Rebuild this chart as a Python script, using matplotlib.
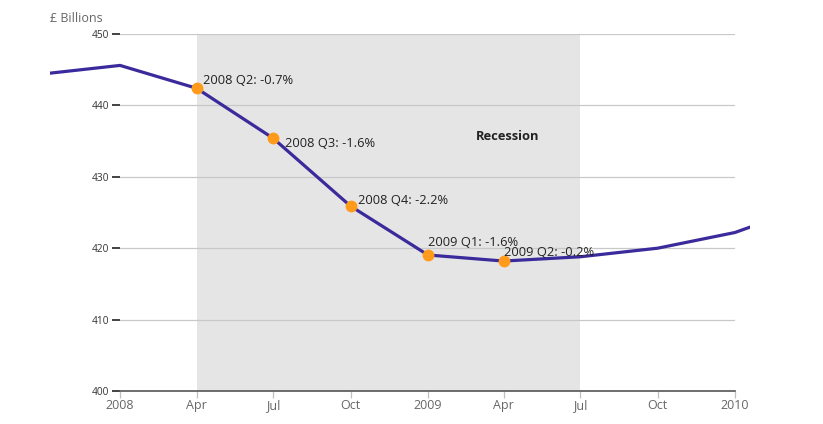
import matplotlib
matplotlib.use("Agg")
import matplotlib.pyplot as plt
import matplotlib.dates as mdates
from matplotlib.transforms import Bbox, TransformedBbox
import datetime as dt

plt.rcParams['font.family'] = ['Open Sans', 'DejaVu Sans']

dates = ["2007-10-01", "2008-01-01", "2008-04-01", "2008-07-01", "2008-10-01",
         "2009-01-01", "2009-04-01", "2009-07-01", "2009-10-01", "2010-01-01", "2010-04-01"]
values = [444.4, 445.6, 442.4, 435.4, 425.9, 419.05, 418.2, 418.8, 420.0, 422.2, 426.0]

marked_dates = ["2008-04-01", "2008-07-01", "2008-10-01", "2009-01-01", "2009-04-01"]
marked_labels = ["2008 Q2: -0.7%", "2008 Q3: -1.6%", "2008 Q4: -2.2%",
                 "2009 Q1: -1.6%", "2009 Q2: -0.2%"]
label_offsets = [(6, 8), (12, -5), (7, 6), (0, 12), (0, 9)]

recession = ["2008-04-01", "2009-07-01"]
yticks = [400, 410, 420, 430, 440, 450]
xtick_dates = ["2008-01-01", "2008-04-01", "2008-07-01", "2008-10-01", "2009-01-01",
               "2009-04-01", "2009-07-01", "2009-10-01", "2010-01-01"]
xtick_labels = ["2008", "Apr", "Jul", "Oct", "2009", "Apr", "Jul", "Oct", "2010"]

to_d = lambda s: dt.datetime.strptime(s, "%Y-%m-%d")
D = [to_d(s) for s in dates]
val = dict(zip(dates, values))

W, H = 823, 424
fig = plt.figure(figsize=(W / 100, H / 100), dpi=100)
ax = fig.add_axes([120 / W, (H - 391) / H, (735 - 120) / W, (391 - 34) / H])
ax.set_xlim(to_d("2008-01-01"), to_d("2010-01-01"))
ax.set_ylim(400, 450)

ax.axvspan(to_d(recession[0]), to_d(recession[1]), color="#e5e5e5", zorder=0, lw=0)
for y in yticks[1:]:
    ax.axhline(y, color="#c8c8c8", lw=0.9, zorder=1)

line, = ax.plot(D, values, color="#3a2a9c", lw=2.3, zorder=3, clip_on=False,
                solid_joinstyle="miter")
fig.canvas.draw()
clipbox = TransformedBbox(Bbox([[50 / W, 0], [750 / W, 1]]), fig.transFigure)
line.set_clip_box(clipbox)
line.set_clip_on(True)

for d, lab, off in zip(marked_dates, marked_labels, label_offsets):
    ax.plot([to_d(d)], [val[d]], "o", color="#ff9a1a", ms=7.5, mec="#ff9a1a", zorder=4)
    ax.annotate(lab, (to_d(d), val[d]), xytext=off, textcoords="offset pixels",
                fontsize=9.3, color="#222222", ha="left", va="center", zorder=5)

ax.annotate("Recession", (to_d("2009-04-01"), 435.7), xytext=(4, 0),
            textcoords="offset pixels", fontsize=9.3, fontweight="bold",
            color="#222222", ha="center", va="center")

for s in ["top", "right", "left"]:
    ax.spines[s].set_visible(False)
ax.spines["bottom"].set_color("#555555")
ax.spines["bottom"].set_linewidth(1.2)

ax.set_yticks(yticks)
ax.set_yticklabels([str(y) for y in yticks])
ax.tick_params(axis="y", length=6, width=1.2, color="#222222", labelsize=7.3,
               labelcolor="#333333", pad=2)
ax.set_xticks([to_d(d) for d in xtick_dates])
ax.set_xticklabels(xtick_labels)
ax.tick_params(axis="x", length=5, width=0.9, color="#c0c0c0", labelsize=9,
               labelcolor="#666666", pad=1)

fig.text(50 / W, 1 - 19 / H, "£ Billions", fontsize=9, color="#666666",
         ha="left", va="center")

fig.savefig("out.png", dpi=100)
